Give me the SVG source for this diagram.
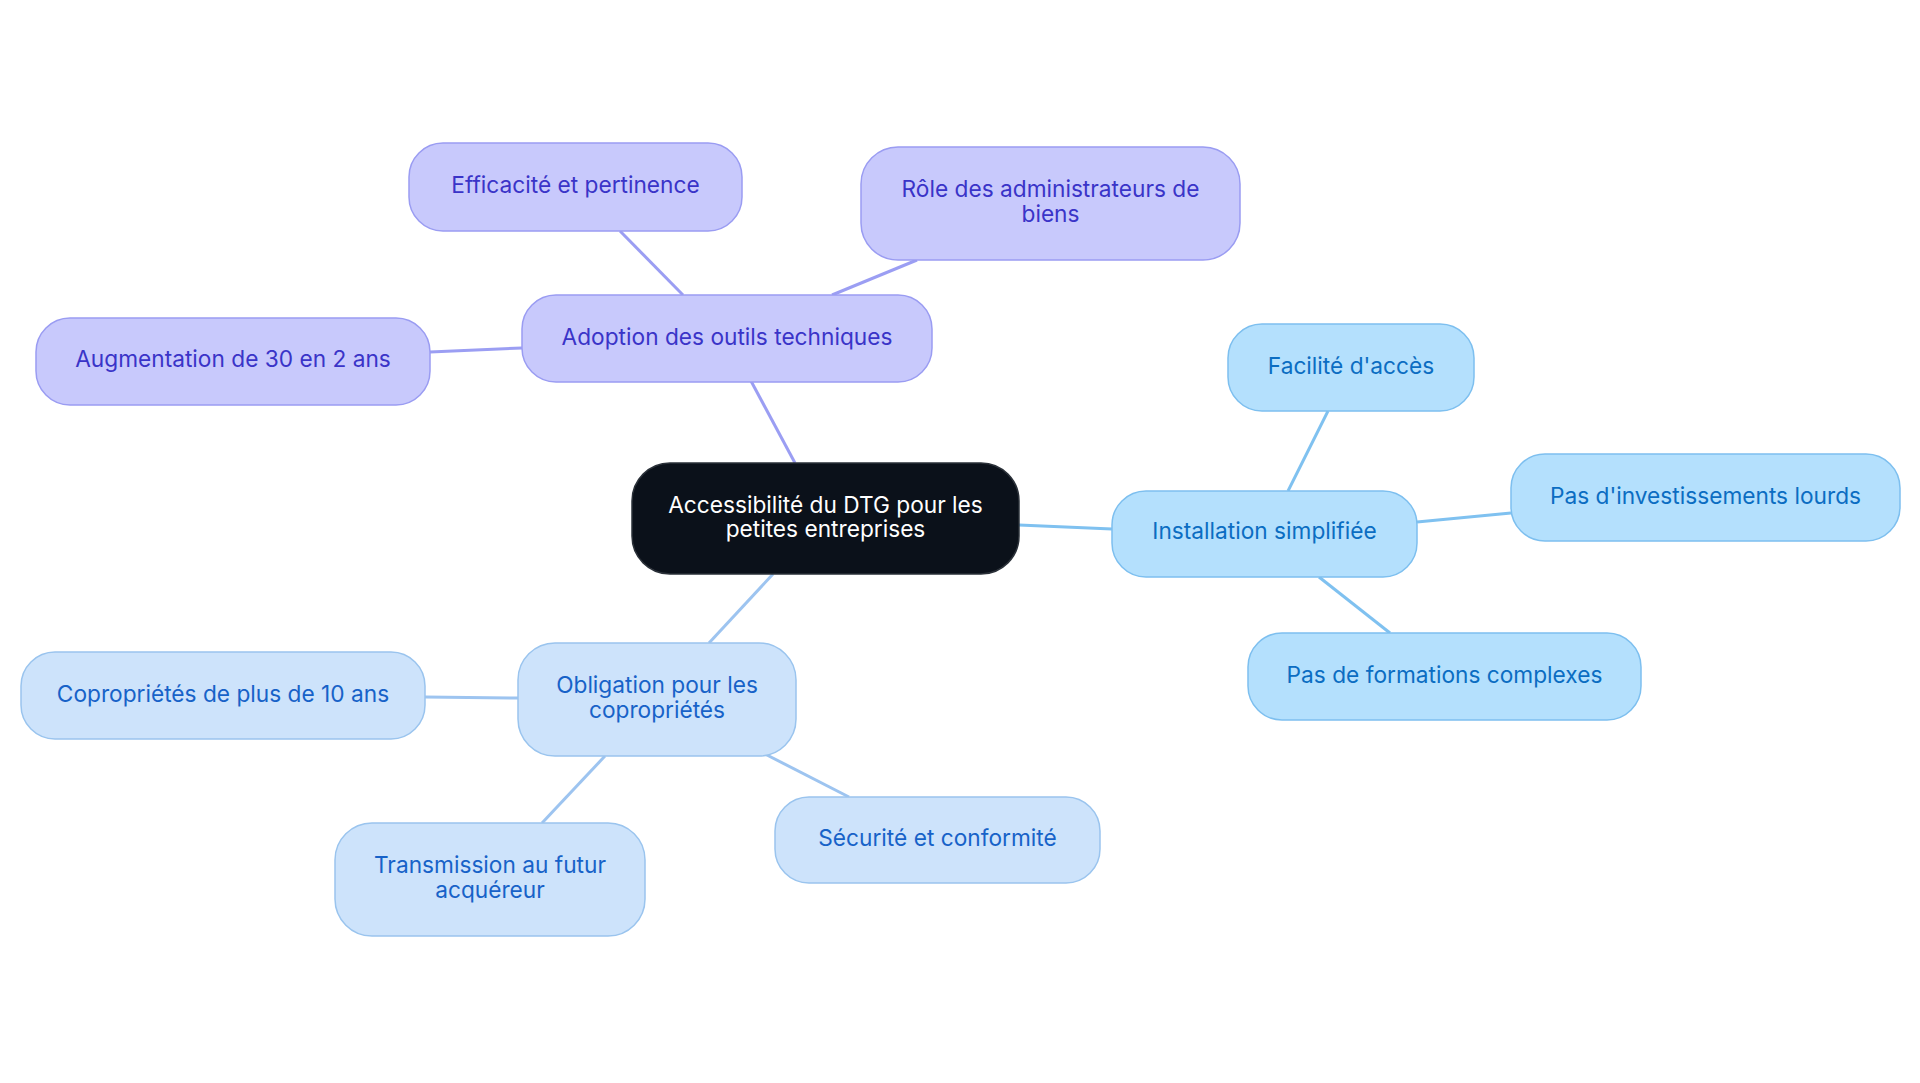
<svg xmlns="http://www.w3.org/2000/svg" width="1920" height="1083" viewBox="0 0 1920 1083">
<style>
text{font-family:Inter,"Noto Sans",sans-serif;font-size:22.7px;text-anchor:middle}
.p rect{fill:#C8C9FC;stroke:#9A9CF2;stroke-width:1.5}
.p text{fill:#3A34C8}
.b rect{fill:#B4E0FD;stroke:#7DBFEF;stroke-width:1.5}
.b text{fill:#0B6DC2}
.l rect{fill:#CDE3FB;stroke:#9AC4EE;stroke-width:1.5}
.l text{fill:#1762C8}
.r rect{fill:#0B111A;stroke:#2A3038;stroke-width:1.5}
.r text{fill:#FFFFFF}
#edges line{stroke-width:3;fill:none}
.ep{stroke:#9B9EF3}
.eb{stroke:#7FC1F0}
.el{stroke:#9DC4F0}
</style>
<rect width="1920" height="1083" fill="#FFFFFF"/>
<g id="edges">
<line class="ep" x1="795" y1="463" x2="751" y2="381"/>
<line class="ep" x1="683" y1="295" x2="620" y2="231"/>
<line class="ep" x1="832" y1="295" x2="917" y2="260"/>
<line class="ep" x1="522" y1="348" x2="430" y2="352"/>
<line class="eb" x1="1019" y1="525" x2="1112" y2="529"/>
<line class="eb" x1="1288" y1="491" x2="1328" y2="411"/>
<line class="eb" x1="1417" y1="522" x2="1511" y2="513"/>
<line class="eb" x1="1319" y1="577" x2="1390" y2="633"/>
<line class="el" x1="773" y1="574" x2="709" y2="643"/>
<line class="el" x1="518" y1="698" x2="425" y2="697"/>
<line class="el" x1="605" y1="756" x2="542" y2="823"/>
<line class="el" x1="765" y1="754" x2="849" y2="797"/>
</g>
<g id="root" class="r">
<rect x="632" y="463" width="387" height="111" rx="38"/>
<text x="825.5" y="513">Accessibilité du DTG pour les</text>
<text x="825.5" y="537">petites entreprises</text>
</g>
<g id="adoption" class="p">
<rect x="522" y="295" width="410" height="87" rx="34"/>
<text x="727" y="345">Adoption des outils techniques</text>
</g>
<g id="efficacite" class="p">
<rect x="409" y="143" width="333" height="88" rx="34"/>
<text x="575.5" y="193">Efficacité et pertinence</text>
</g>
<g id="role" class="p">
<rect x="861" y="147" width="379" height="113" rx="37"/>
<text x="1050.5" y="197">Rôle des administrateurs de</text>
<text x="1050.5" y="222">biens</text>
</g>
<g id="augmentation" class="p">
<rect x="36" y="318" width="394" height="87" rx="34"/>
<text x="233" y="367">Augmentation de 30 en 2 ans</text>
</g>
<g id="installation" class="b">
<rect x="1112" y="491" width="305" height="86" rx="34"/>
<text x="1264.5" y="539">Installation simplifiée</text>
</g>
<g id="facilite" class="b">
<rect x="1228" y="324" width="246" height="87" rx="34"/>
<text x="1351" y="374">Facilité d'accès</text>
</g>
<g id="investissements" class="b">
<rect x="1511" y="454" width="389" height="87" rx="34"/>
<text x="1705.5" y="504">Pas d'investissements lourds</text>
</g>
<g id="formations" class="b">
<rect x="1248" y="633" width="393" height="87" rx="34"/>
<text x="1444.5" y="683">Pas de formations complexes</text>
</g>
<g id="obligation" class="l">
<rect x="518" y="643" width="278" height="113" rx="37"/>
<text x="657" y="693">Obligation pour les</text>
<text x="657" y="718">copropriétés</text>
</g>
<g id="coproprietes" class="l">
<rect x="21" y="652" width="404" height="87" rx="34"/>
<text x="223" y="702">Copropriétés de plus de 10 ans</text>
</g>
<g id="transmission" class="l">
<rect x="335" y="823" width="310" height="113" rx="37"/>
<text x="490" y="873">Transmission au futur</text>
<text x="490" y="898">acquéreur</text>
</g>
<g id="securite" class="l">
<rect x="775" y="797" width="325" height="86" rx="34"/>
<text x="937.5" y="846">Sécurité et conformité</text>
</g>
</svg>
